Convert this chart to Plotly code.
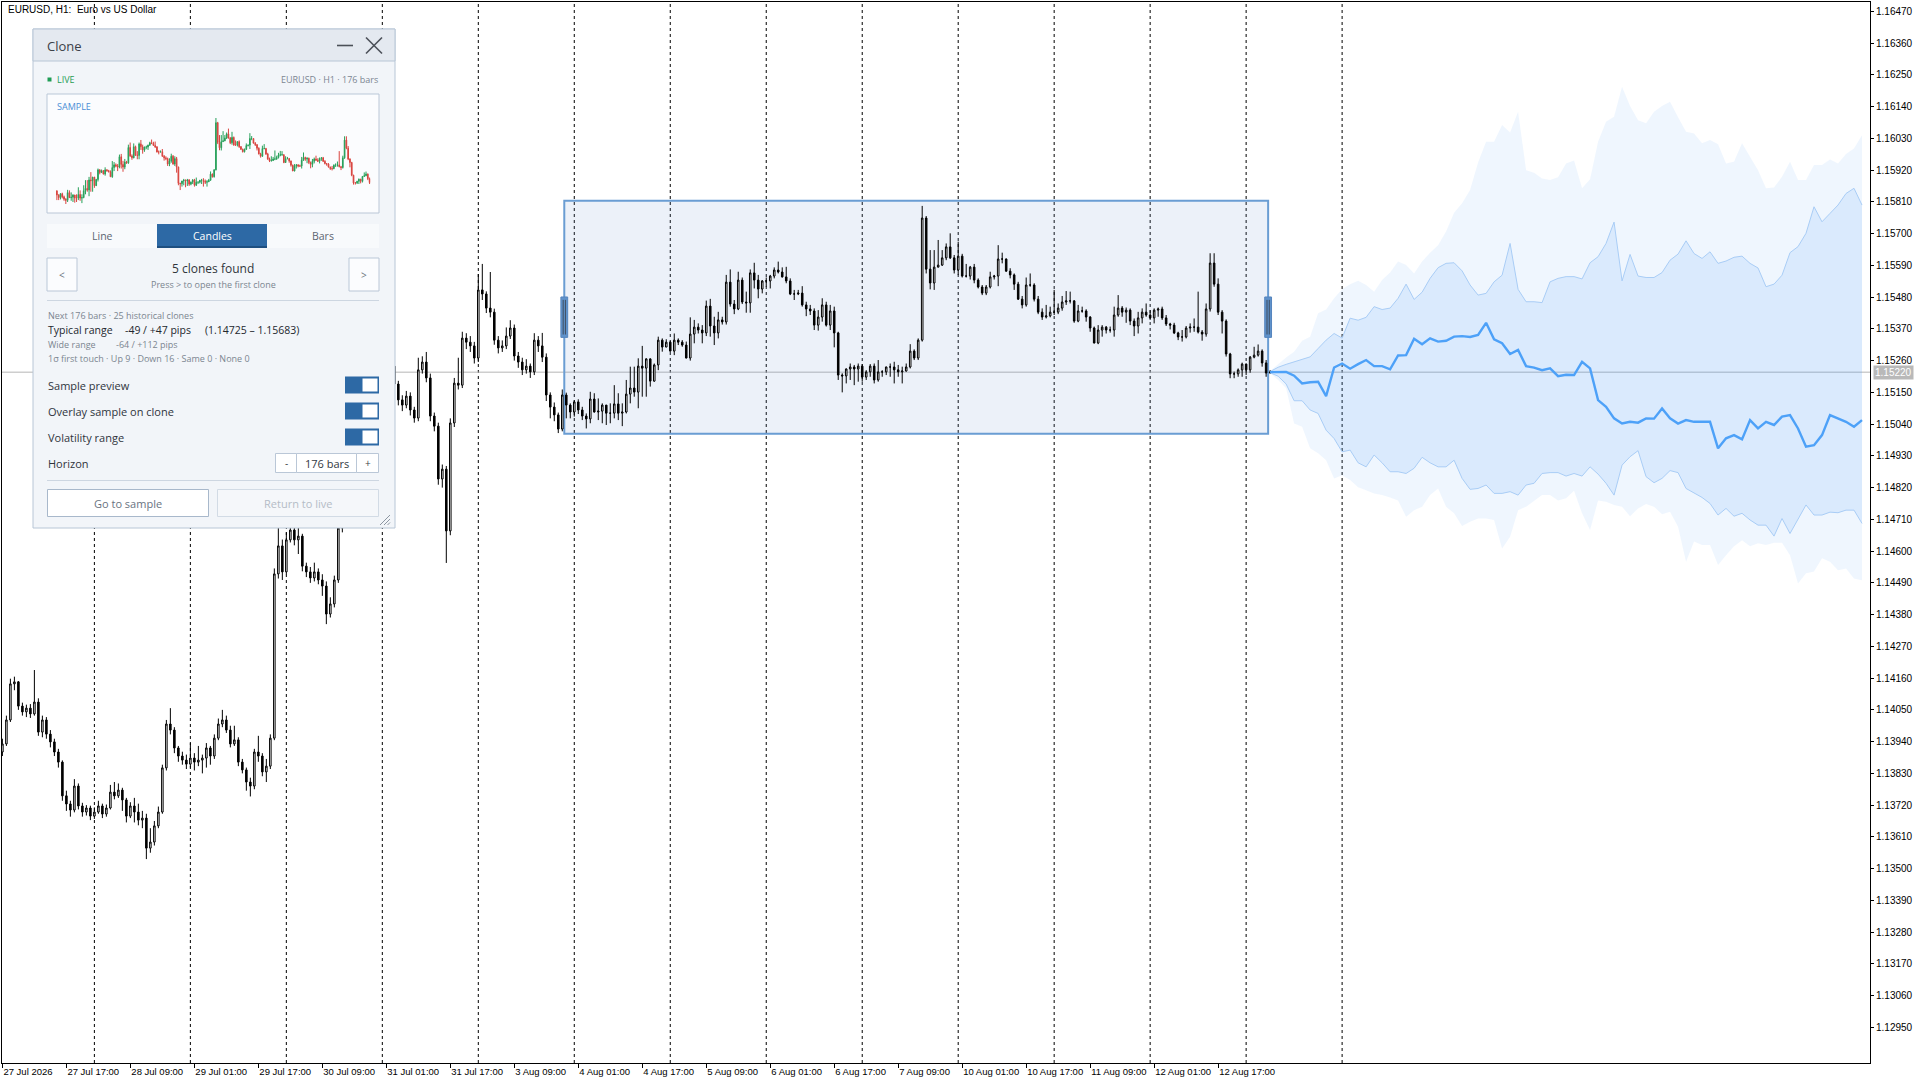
import plotly.graph_objects as go

# ------------------------------------------------------------------
# EURUSD H1 - prices kept in points (0.00001) above 1.10000
# ------------------------------------------------------------------
BASE = 1.10000
POINT = 0.00001

OPEN_FIRST = 3904
CLOSES = [
    3932, 4015, 4140, 4147, 4063, 4043, 4056, 4036, 4077, 3973,
    4015, 3966, 3939, 3904, 3869, 3752, 3724, 3703, 3786, 3717,
    3696, 3710, 3682, 3696, 3717, 3689, 3710, 3765, 3752, 3772,
    3738, 3682, 3717, 3696, 3668, 3675, 3571, 3592, 3648, 3696,
    3849, 4001, 3980, 3918, 3890, 3876, 3862, 3883, 3869, 3876,
    3883, 3918, 3890, 3952, 4001, 4015, 3980, 3932, 3946, 3869,
    3842, 3800, 3786, 3904, 3890, 3835, 3855, 3952, 4521, 4618,
    4528, 4639, 4673, 4639, 4652, 4548, 4528, 4507, 4528, 4500,
    4479, 4382, 4417, 4500, 4680, 4777, 4881, 4846, 4943, 5020,
    4985, 5089, 5141, 5117, 5193, 5221, 5172, 5241, 5179, 5124,
    5106, 5137, 5089, 5061, 5228, 5255, 5200, 5068, 5033, 4850,
    4884, 4670, 5044, 5182, 5175, 5338, 5324, 5311, 5269, 5505,
    5491, 5442, 5428, 5331, 5304, 5311, 5345, 5373, 5276, 5255,
    5228, 5241, 5221, 5331, 5311, 5272, 5141, 5099, 5072, 5023,
    5141, 5106, 5082, 5117, 5089, 5068, 5058, 5127, 5082, 5085,
    5106, 5078, 5078, 5110, 5078, 5082, 5144, 5165, 5151, 5241,
    5234, 5266, 5189, 5245, 5331, 5307, 5324, 5293, 5331, 5324,
    5314, 5269, 5352, 5376, 5366, 5356, 5449, 5380, 5356, 5401,
    5394, 5532, 5456, 5439, 5539, 5463, 5460, 5564, 5539, 5508,
    5536, 5536, 5553, 5574, 5567, 5550, 5536, 5491, 5491, 5494,
    5453, 5439, 5432, 5383, 5411, 5453, 5383, 5432, 5356, 5210,
    5207, 5231, 5238, 5231, 5241, 5203, 5221, 5241, 5193, 5221,
    5221, 5238, 5238, 5228, 5221, 5224, 5238, 5293, 5269, 5331,
    5754, 5577, 5529, 5584, 5591, 5616, 5654, 5616, 5574, 5622,
    5553, 5553, 5584, 5539, 5515, 5494, 5515, 5550, 5553, 5612,
    5612, 5570, 5557, 5525, 5473, 5453, 5522, 5522, 5473, 5428,
    5411, 5415, 5428, 5428, 5442, 5463, 5467, 5467, 5397, 5432,
    5432, 5411, 5373, 5321, 5366, 5376, 5366, 5366, 5418, 5442,
    5428, 5435, 5397, 5380, 5408, 5428, 5418, 5408, 5435, 5439,
    5408, 5387, 5383, 5356, 5342, 5342, 5373, 5376, 5376, 5359,
    5352, 5439, 5598, 5525, 5428, 5397, 5283, 5214, 5214, 5228,
    5248, 5228, 5272, 5279, 5293, 5252, 5217, 5220,
]
HIGHS = [
    3950, 4030, 4158, 4165, 4150, 4075, 4068, 4070, 4188, 4090,
    4030, 4025, 3980, 3950, 3915, 3875, 3770, 3735, 3810, 3795,
    3728, 3720, 3718, 3712, 3735, 3725, 3722, 3790, 3800, 3795,
    3780, 3745, 3730, 3745, 3725, 3700, 3690, 3640, 3665, 3715,
    3860, 4015, 4056, 3990, 3925, 3905, 3895, 3935, 3900, 3925,
    3895, 3935, 3925, 3965, 4020, 4050, 4030, 3995, 3995, 3955,
    3880, 3850, 3815, 3915, 3960, 3900, 3880, 3965, 4540, 4680,
    4640, 4665, 4700, 4690, 4680, 4660, 4560, 4545, 4560, 4540,
    4520, 4495, 4440, 4515, 4700, 4800, 4905, 4910, 4960, 5045,
    5035, 5110, 5160, 5165, 5215, 5245, 5235, 5262, 5285, 5190,
    5140, 5155, 5150, 5100, 5270, 5275, 5290, 5215, 5080, 5045,
    4900, 4895, 5060, 5200, 5270, 5360, 5355, 5345, 5325, 5560,
    5595, 5500, 5567, 5440, 5345, 5330, 5375, 5400, 5385, 5290,
    5270, 5265, 5250, 5355, 5345, 5356, 5285, 5150, 5115, 5080,
    5160, 5149, 5112, 5123, 5126, 5100, 5077, 5152, 5147, 5129,
    5112, 5106, 5112, 5175, 5147, 5112, 5193, 5239, 5239, 5268,
    5311, 5268, 5268, 5250, 5343, 5337, 5334, 5329, 5354, 5337,
    5331, 5326, 5410, 5401, 5389, 5383, 5468, 5474, 5412, 5429,
    5412, 5557, 5576, 5470, 5568, 5548, 5499, 5576, 5599, 5557,
    5539, 5548, 5557, 5583, 5603, 5583, 5585, 5545, 5505, 5505,
    5518, 5464, 5453, 5441, 5435, 5476, 5464, 5453, 5447, 5360,
    5216, 5233, 5250, 5245, 5250, 5248, 5227, 5248, 5250, 5262,
    5227, 5239, 5250, 5256, 5245, 5239, 5250, 5317, 5299, 5337,
    5796, 5761, 5643, 5643, 5678, 5643, 5666, 5701, 5626, 5672,
    5630, 5595, 5588, 5595, 5545, 5522, 5522, 5568, 5557, 5660,
    5634, 5614, 5580, 5562, 5533, 5484, 5548, 5562, 5528, 5484,
    5441, 5453, 5447, 5505, 5458, 5484, 5501, 5499, 5470, 5453,
    5447, 5438, 5414, 5378, 5383, 5383, 5380, 5378, 5447, 5487,
    5449, 5444, 5441, 5406, 5429, 5441, 5458, 5435, 5441, 5444,
    5447, 5418, 5391, 5391, 5360, 5366, 5380, 5389, 5406, 5499,
    5366, 5458, 5632, 5632, 5545, 5435, 5403, 5287, 5222, 5233,
    5253, 5250, 5276, 5308, 5316, 5299, 5262, 5227,
]
LOWS = [
    3890, 3925, 4008, 4118, 4050, 4030, 4025, 4022, 4030, 3960,
    3955, 3950, 3920, 3890, 3850, 3735, 3700, 3680, 3695, 3705,
    3680, 3684, 3668, 3672, 3690, 3675, 3680, 3705, 3740, 3745,
    3700, 3660, 3675, 3660, 3650, 3640, 3533, 3555, 3580, 3640,
    3690, 3840, 3965, 3900, 3870, 3860, 3845, 3850, 3840, 3855,
    3830, 3850, 3860, 3880, 3945, 3990, 3970, 3920, 3925, 3855,
    3830, 3770, 3750, 3775, 3870, 3820, 3800, 3845, 3945, 4505,
    4500, 4520, 4630, 4620, 4590, 4530, 4510, 4490, 4495, 4485,
    4445, 4347, 4370, 4405, 4490, 4665, 4760, 4830, 4835, 4930,
    4965, 4975, 5075, 5100, 5105, 5180, 5155, 5165, 5165, 5105,
    5085, 5095, 5070, 5045, 5050, 5215, 5185, 5050, 5015, 4830,
    4820, 4559, 4655, 5030, 5160, 5165, 5300, 5290, 5250, 5255,
    5470, 5425, 5410, 5315, 5285, 5290, 5300, 5335, 5260, 5235,
    5210, 5215, 5200, 5210, 5290, 5255, 5120, 5060, 5050, 5009,
    5015, 5060, 5060, 5066, 5075, 5054, 5025, 5043, 5080, 5054,
    5043, 5037, 5043, 5060, 5054, 5033, 5077, 5112, 5135, 5095,
    5135, 5135, 5170, 5187, 5227, 5291, 5308, 5291, 5279, 5314,
    5308, 5268, 5260, 5320, 5354, 5320, 5345, 5343, 5314, 5337,
    5385, 5385, 5447, 5421, 5435, 5456, 5426, 5426, 5510, 5476,
    5493, 5516, 5510, 5545, 5562, 5548, 5528, 5487, 5470, 5487,
    5447, 5414, 5418, 5366, 5364, 5395, 5378, 5366, 5306, 5193,
    5150, 5181, 5193, 5175, 5187, 5187, 5193, 5204, 5181, 5187,
    5204, 5210, 5204, 5181, 5204, 5181, 5222, 5233, 5262, 5262,
    5326, 5562, 5507, 5505, 5583, 5588, 5608, 5612, 5562, 5557,
    5548, 5548, 5541, 5528, 5510, 5487, 5487, 5510, 5541, 5518,
    5597, 5568, 5545, 5505, 5470, 5441, 5447, 5516, 5465, 5421,
    5401, 5406, 5410, 5418, 5421, 5433, 5453, 5458, 5391, 5393,
    5426, 5395, 5360, 5320, 5317, 5343, 5354, 5357, 5343, 5412,
    5412, 5391, 5383, 5345, 5354, 5389, 5412, 5401, 5389, 5412,
    5401, 5380, 5368, 5352, 5331, 5326, 5337, 5357, 5360, 5354,
    5329, 5343, 5430, 5516, 5418, 5354, 5274, 5199, 5199, 5204,
    5204, 5210, 5218, 5268, 5274, 5239, 5204, 5216,
]

# sample window (176 bars)
SAMPLE_FIRST, SAMPLE_LAST = 141, 316

# time axis
LABEL_BARS = [0, 16, 32, 48, 64, 80, 96, 112, 128, 144,
              160, 176, 192, 208, 224, 240, 256, 272, 288, 304]
LABEL_TEXT = ["27 Jul 2026", "27 Jul 17:00", "28 Jul 09:00", "29 Jul 01:00",
              "29 Jul 17:00", "30 Jul 09:00", "31 Jul 01:00", "31 Jul 17:00",
              "3 Aug 09:00", "4 Aug 01:00", "4 Aug 17:00", "5 Aug 09:00",
              "6 Aug 01:00", "6 Aug 17:00", "7 Aug 09:00", "10 Aug 01:00",
              "10 Aug 17:00", "11 Aug 09:00", "12 Aug 01:00", "12 Aug 17:00"]
DAY_BARS = [23, 47, 71, 95, 119, 143, 167, 191, 215, 239, 263, 287, 311, 335]

# price scale
PRICE_TICKS = [1.12950, 1.13060, 1.13170, 1.13280, 1.13390, 1.13500, 1.13610,
               1.13720, 1.13830, 1.13940, 1.14050, 1.14160, 1.14270, 1.14380,
               1.14490, 1.14600, 1.14710, 1.14820, 1.14930, 1.15040, 1.15150,
               1.15260, 1.15370, 1.15480, 1.15590, 1.15700, 1.15810, 1.15920,
               1.16030, 1.16140, 1.16250, 1.16360, 1.16470]

# clone projection, one value every 2 bars from the last bar
FC_MID = [
    5220, 5220, 5221, 5208, 5181, 5185, 5187, 5137, 5236, 5250,
    5232, 5248, 5262, 5241, 5241, 5230, 5278, 5279, 5336, 5317,
    5337, 5326, 5329, 5343, 5345, 5342, 5349, 5391, 5334, 5320,
    5283, 5297, 5241, 5236, 5227, 5233, 5206, 5211, 5210, 5256,
    5233, 5123, 5100, 5060, 5042, 5048, 5045, 5060, 5059, 5094,
    5060, 5042, 5054, 5048, 5048, 5048, 4956, 4991, 5002, 4987,
    5054, 5025, 5048, 5037, 5066, 5071, 5025, 4962, 4967, 5002,
    5071, 5060, 5048, 5031, 5054,
]
FC_IN_HI = [
    5222, 5237, 5247, 5255, 5265, 5273, 5302, 5331, 5354, 5338,
    5407, 5400, 5410, 5447, 5437, 5442, 5476, 5525, 5472, 5497,
    5545, 5582, 5597, 5599, 5571, 5522, 5487, 5493, 5533, 5556,
    5666, 5507, 5464, 5464, 5461, 5533, 5545, 5551, 5551, 5543,
    5599, 5620, 5666, 5740, 5536, 5628, 5553, 5548, 5548, 5565,
    5608, 5629, 5675, 5631, 5614, 5637, 5597, 5605, 5618, 5622,
    5597, 5581, 5516, 5525, 5556, 5634, 5655, 5701, 5793, 5741,
    5770, 5799, 5839, 5857, 5799,
]
FC_IN_LO = [
    5218, 5206, 5179, 5121, 5121, 5089, 5077, 5019, 4990, 4944,
    4950, 4906, 4892, 4933, 4906, 4875, 4875, 4869, 4887, 4925,
    4906, 4892, 4892, 4915, 4852, 4814, 4817, 4829, 4800, 4800,
    4806, 4794, 4829, 4835, 4869, 4872, 4872, 4860, 4869, 4860,
    4892, 4867, 4835, 4794, 4898, 4927, 4948, 4858, 4837, 4852,
    4879, 4872, 4817, 4802, 4786, 4765, 4725, 4748, 4721, 4731,
    4708, 4690, 4690, 4652, 4713, 4661, 4710, 4760, 4725, 4725,
    4735, 4733, 4742, 4742, 4696,
]
FC_OUT_HI = [
    5224, 5248, 5271, 5291, 5329, 5343, 5424, 5437, 5476, 5507,
    5525, 5537, 5522, 5499, 5539, 5565, 5603, 5591, 5562, 5603,
    5634, 5660, 5707, 5772, 5805, 5851, 5946, 6018, 6018, 6076,
    6050, 6122, 5920, 5911, 5891, 5886, 5895, 5943, 5953, 5857,
    5888, 6018, 6088, 6105, 6209, 6142, 6093, 6082, 6122, 6142,
    6157, 6103, 6053, 6047, 6013, 6024, 6010, 5943, 5949, 6013,
    5964, 5920, 5857, 5860, 5897, 5949, 5886, 5886, 5938, 5938,
    5957, 5943, 5976, 5995, 6041,
]
FC_OUT_LO = [
    5216, 5193, 5164, 5042, 5031, 4956, 4939, 4915, 4852, 4863,
    4846, 4821, 4811, 4800, 4794, 4786, 4775, 4719, 4742, 4754,
    4794, 4817, 4754, 4731, 4687, 4702, 4713, 4713, 4708, 4609,
    4650, 4742, 4754, 4775, 4794, 4794, 4775, 4783, 4809, 4731,
    4673, 4775, 4771, 4760, 4754, 4721, 4748, 4763, 4754, 4728,
    4736, 4684, 4563, 4633, 4621, 4621, 4552, 4586, 4617, 4638,
    4617, 4627, 4621, 4629, 4629, 4586, 4488, 4523, 4529, 4575,
    4563, 4534, 4540, 4505, 4499,
]


def to_price(pts):
    return [round(BASE + p * POINT, 5) for p in pts]


bars = list(range(len(CLOSES)))
opens = to_price([OPEN_FIRST] + CLOSES[:-1])   # each H1 bar opens at the previous close
highs = to_price(HIGHS)
lows = to_price(LOWS)
closes = to_price(CLOSES)
fc_bars = list(range(bars[-1], bars[-1] + 2 * len(FC_MID), 2))
live = closes[-1]

# ------------------------------------------------------------------
# page geometry (pixels)
# ------------------------------------------------------------------
W, H = 1919, 1079
PL, PR, PT, PB = 2, 1870, 2, 1063
Y_MIN, Y_MAX = 1.128265, 1.165025
FONT_MT = "Liberation Sans, Arial, sans-serif"
FONT_UI = "Open Sans, Noto Sans, sans-serif"

BLUE_BOX = "#6A9DD3"
BAND_OUT = "rgba(77,157,245,0.09)"
BAND_IN = "rgba(77,157,245,0.13)"
BAND_EDGE = "#A9CDF6"
MID_BLUE = "#4DA1F8"


def fx(x):
    return (x - PL) / (PR - PL)


def fy(y):
    return (PB - y) / (PB - PT)


fig = go.Figure()

# projection bands
fig.add_trace(go.Scatter(x=fc_bars, y=to_price(FC_OUT_HI), mode="lines",
                         line=dict(width=0), hoverinfo="skip"))
fig.add_trace(go.Scatter(x=fc_bars, y=to_price(FC_OUT_LO), mode="lines",
                         line=dict(width=0), fill="tonexty", fillcolor=BAND_OUT,
                         hoverinfo="skip"))
fig.add_trace(go.Scatter(x=fc_bars, y=to_price(FC_IN_HI), mode="lines",
                         line=dict(width=1, color=BAND_EDGE), hoverinfo="skip"))
fig.add_trace(go.Scatter(x=fc_bars, y=to_price(FC_IN_LO), mode="lines",
                         line=dict(width=1, color=BAND_EDGE), fill="tonexty",
                         fillcolor=BAND_IN, hoverinfo="skip"))
fig.add_trace(go.Scatter(x=fc_bars, y=to_price(FC_MID), mode="lines",
                         line=dict(width=2.4, color=MID_BLUE), hoverinfo="skip"))

# main candles
fig.add_trace(go.Candlestick(
    x=bars, open=opens, high=highs, low=lows, close=closes,
    increasing=dict(line=dict(color="black", width=1), fillcolor="white"),
    decreasing=dict(line=dict(color="black", width=1), fillcolor="black"),
    hoverinfo="skip"))

# dummy trace to create the pixel-space overlay subplot for the panel
fig.add_trace(go.Scatter(x=[None], y=[None], xaxis="x2", yaxis="y2",
                         hoverinfo="skip"))

# sample preview inside the panel (same bars, red/green)
s0, s1 = SAMPLE_FIRST, SAMPLE_LAST + 1
fig.add_trace(go.Candlestick(
    x=bars[s0:s1], open=opens[s0:s1], high=highs[s0:s1], low=lows[s0:s1],
    close=closes[s0:s1], xaxis="x3", yaxis="y3",
    increasing=dict(line=dict(color="#27A05A", width=1), fillcolor="#27A05A"),
    decreasing=dict(line=dict(color="#D9443F", width=1), fillcolor="#D9443F"),
    hoverinfo="skip"))

shapes = []

# day separators and live price line
for d in DAY_BARS:
    shapes.append(dict(type="line", xref="x", yref="paper", x0=d, x1=d, y0=0, y1=1,
                       line=dict(color="black", width=1, dash="3px,3px"), layer="below"))
shapes.append(dict(type="line", xref="paper", yref="y", x0=0, x1=1, y0=live, y1=live,
                   line=dict(color="#B5B5B5", width=1), layer="below"))

# sample rectangle with handles
s_hi = max(highs[s0:s1]) + 18 * POINT
s_lo = min(lows[s0:s1]) - 18 * POINT
r_x0, r_x1 = SAMPLE_FIRST - 0.5, SAMPLE_LAST + 0.5
shapes.append(dict(type="rect", xref="x", yref="y", x0=r_x0, x1=r_x1, y0=s_lo, y1=s_hi,
                   fillcolor="rgba(106,150,210,0.13)", line=dict(color=BLUE_BOX, width=2),
                   layer="below"))
mid = (s_hi + s_lo) / 2
for xe in (r_x0, r_x1):
    shapes.append(dict(type="rect", xref="x", yref="y", x0=xe - 0.85, x1=xe + 0.85,
                       y0=mid - 70 * POINT, y1=mid + 70 * POINT,
                       fillcolor="#5F92CB", line=dict(color="#5585BD", width=1), layer="above"))
    for dx in (-0.28, 0.28):
        shapes.append(dict(type="line", xref="x", yref="y", x0=xe + dx, x1=xe + dx,
                           y0=mid - 60 * POINT, y1=mid + 60 * POINT,
                           line=dict(color="#3E4B5C", width=1), layer="above"))


# ---------------- panel (pixel coordinates on x2/y2) ----------------
def rect(x0, y0, x1, y1, fill, line=None, lw=1):
    shapes.append(dict(type="rect", xref="x2", yref="y2", x0=x0, y0=y0, x1=x1, y1=y1,
                       fillcolor=fill, layer="below",
                       line=dict(color=line or fill, width=lw if line else 0)))


def seg(x0, y0, x1, y1, color, lw=1):
    shapes.append(dict(type="line", xref="x2", yref="y2", x0=x0, y0=y0, x1=x1, y1=y1,
                       layer="below", line=dict(color=color, width=lw)))


PANEL_LINE = "#B8C6D6"
rect(33, 29, 395, 528, "#F2F5F9", PANEL_LINE)
rect(33, 29, 395, 61, "#E4E9F0", PANEL_LINE)
seg(337, 45.5, 353, 45.5, "#4B5058", 1.6)
seg(366, 37.5, 382, 53.5, "#4B5058", 1.6)
seg(366, 53.5, 382, 37.5, "#4B5058", 1.6)
rect(47.5, 77.5, 51.5, 81.5, "#1F9D55")
rect(47, 94, 379, 213, "#FBFCFE", "#BAC7D7")
rect(47, 224, 157, 248, "#F8FAFC")
rect(267, 224, 379, 248, "#F8FAFC")
rect(157, 224, 267, 248, "#2D69A5")
seg(157, 247, 267, 247, "#1E4F80", 2)
rect(47, 258, 77, 291, "#FBFCFE", "#BAC7D7")
rect(349, 258, 379, 291, "#FBFCFE", "#BAC7D7")
seg(47, 300.5, 379, 300.5, "#CDD6E1")
for yc in (385, 411, 437):
    rect(345, yc - 8.5, 379, yc + 8.5, "#2D69A5")
    rect(362.5, yc - 6.5, 377.5, yc + 6.5, "#FFFFFF")
rect(275.5, 453.5, 296.5, 472.5, "#FFFFFF", "#BAC7D7")
rect(296.5, 453.5, 356.5, 472.5, "#FFFFFF", "#BAC7D7")
rect(356.5, 453.5, 378.5, 472.5, "#FFFFFF", "#BAC7D7")
seg(47, 480.5, 379, 480.5, "#CDD6E1")
rect(47.5, 489.5, 208.5, 516.5, "#FFFFFF", "#A8B8CB")
rect(217.5, 489.5, 378.5, 516.5, "#F5F7FA", "#D2DBE5")
seg(380, 525, 390, 515, "#8C96A2")
seg(384, 525, 390, 519, "#8C96A2")
seg(387.5, 525, 390, 522.5, "#8C96A2")

annotations = []


def text(x, y, s, size=11, color="#2F343C", anchor="left", family=FONT_UI):
    annotations.append(dict(xref="x2", yref="y2", x=x, y=y, text=s, showarrow=False,
                            xanchor=anchor, yanchor="middle",
                            font=dict(family=family, size=size, color=color)))


n_sample = SAMPLE_LAST - SAMPLE_FIRST + 1
text(6, 9.5, "EURUSD, H1:\u00a0 Euro vs US Dollar", 10, "black", family=FONT_MT)
text(45, 45.5, "Clone", 13, "#3B4048")
text(55, 79.5, "LIVE", 9, "#1F9D55")
text(380, 79.5, f"EURUSD · H1 · {n_sample} bars", 9, "#7C8692", "right")
text(55, 106.5, "SAMPLE", 9, "#4A8ED6")
text(102, 236, "Line", 10.5, "#5C6571", "center")
text(212, 236, "Candles", 10.5, "#FFFFFF", "center")
text(323, 236, "Bars", 10.5, "#5C6571", "center")
text(62, 274.5, "<", 10, "#6B7480", "center")
text(364, 274.5, ">", 10, "#6B7480", "center")
text(213, 268.5, "5 clones found", 12, "#30353C", "center")
text(213, 284, "Press > to open the first clone", 9, "#7B8590", "center")
text(46, 315.7, f"Next {n_sample} bars · 25 historical clones", 9, "#7B8590")
text(46, 330, "Typical range", 10.5, "#23272E")
text(123, 330, "-49 / +47 pips", 10.5, "#23272E")
text(203, 330, "(1.14725 – 1.15683)", 10.5, "#23272E")
text(46, 344, "Wide range", 9, "#7B8590")
text(114, 344, "-64 / +112 pips", 9, "#7B8590")
text(46, 358, "1σ first touch · Up 9 · Down 16 · Same 0 · None 0", 9, "#7B8590")
text(46, 385, "Sample preview", 11)
text(46, 411, "Overlay sample on clone", 11)
text(46, 437, "Volatility range", 11)
text(46, 463, "Horizon", 11)
text(286, 463, "-", 10, "#3A3F47", "center")
text(326.5, 463, f"{n_sample} bars", 11, "#33383F", "center")
text(367.5, 463, "+", 10, "#3A3F47", "center")
text(128, 503, "Go to sample", 11, "#69737F", "center")
text(298, 503, "Return to live", 11, "#B4BCC6", "center")

# live price tag on the price scale
annotations.append(dict(xref="paper", yref="y", x=1, y=live, xanchor="left", yanchor="middle",
                        xshift=3, text=f"{live:.5f}", showarrow=False, bgcolor="#B9B9B9",
                        borderpad=1, font=dict(family=FONT_MT, size=10, color="white")))

fig.update_layout(
    width=W, height=H,
    margin=dict(l=PL, r=W - PR, t=PT, b=H - PB, autoexpand=False),
    paper_bgcolor="white", plot_bgcolor="rgba(0,0,0,0)",
    showlegend=False, hovermode=False, boxgap=0.45,
    shapes=shapes, annotations=annotations,
    xaxis=dict(domain=[0, 1], range=[-0.1, 467], tickmode="array",
               tickvals=LABEL_BARS, ticktext=LABEL_TEXT, ticks="outside", ticklen=4,
               tickcolor="black", ticklabelposition="outside right", tickangle=0,
               automargin=False,
               showline=True, linecolor="black", linewidth=1, mirror=True,
               showgrid=False, zeroline=False, fixedrange=True,
               tickfont=dict(family=FONT_MT, size=9.5, color="black"),
               rangeslider=dict(visible=False)),
    yaxis=dict(domain=[0, 1], range=[Y_MIN, Y_MAX], side="right", tickmode="array",
               tickvals=PRICE_TICKS, ticktext=[f"{v:.5f}" for v in PRICE_TICKS],
               ticks="outside", ticklen=3, automargin=False,
               tickcolor="black", showline=True, linecolor="black", linewidth=1,
               mirror=True, showgrid=False, zeroline=False, fixedrange=True,
               tickfont=dict(family=FONT_MT, size=10, color="black")),
    xaxis2=dict(domain=[0, 1], range=[PL, PR], anchor="y2", visible=False, fixedrange=True),
    yaxis2=dict(domain=[0, 1], range=[PB, PT], anchor="x2", visible=False, fixedrange=True),
    xaxis3=dict(domain=[fx(56), fx(370.5)], range=[SAMPLE_FIRST - 0.5, SAMPLE_LAST + 0.5],
                anchor="y3", visible=False, fixedrange=True, rangeslider=dict(visible=False)),
    yaxis3=dict(domain=[fy(204), fy(118)], range=[min(lows[s0:s1]), max(highs[s0:s1])],
                anchor="x3", visible=False, fixedrange=True),
)

fig.write_html("out.html", config={"displayModeBar": False},
               post_script="document.body.style.margin='0';document.body.style.overflow='hidden';")
